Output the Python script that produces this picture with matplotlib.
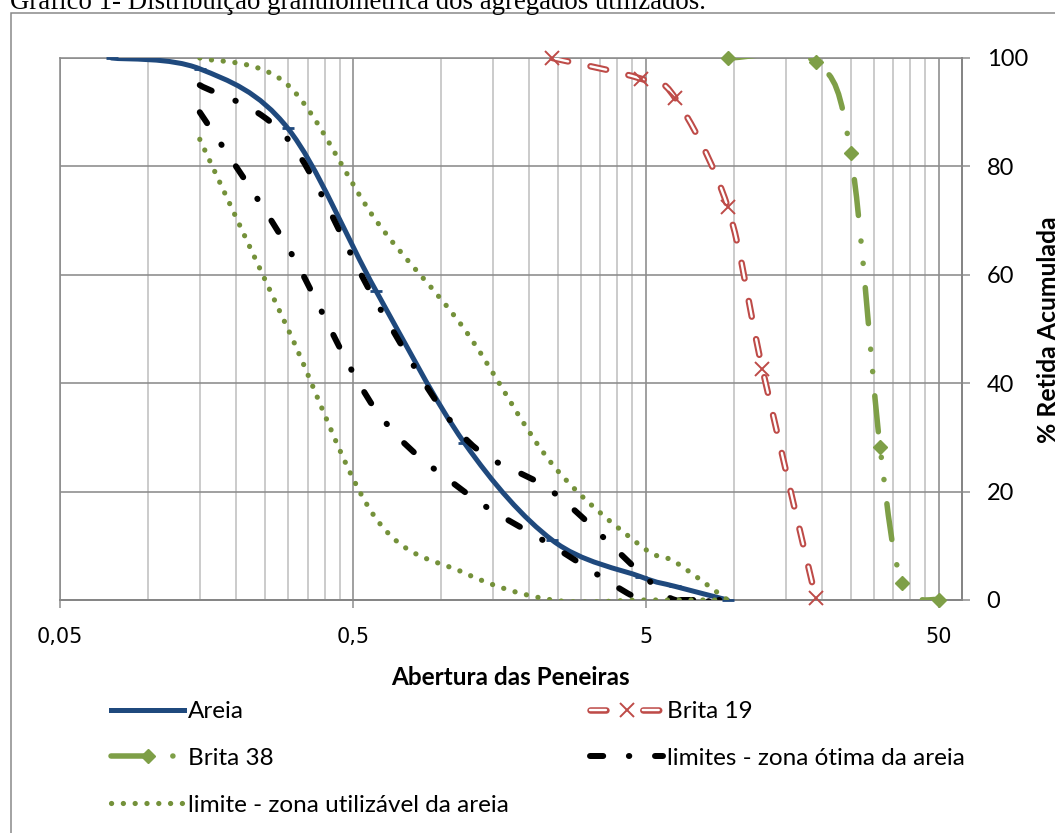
import numpy as np
import matplotlib
matplotlib.use("Agg")
import matplotlib.pyplot as plt
from matplotlib.path import Path
from matplotlib.patches import PathPatch, Rectangle
from matplotlib.lines import Line2D
from matplotlib.legend_handler import HandlerTuple

plt.rcParams["font.family"] = ["Lato", "DejaVu Sans"]
plt.rcParams["lines.scale_dashes"] = False

# peneiras (mm) e % retida acumulada
peneiras_areia = [0.075, 0.15, 0.3, 0.6, 1.2, 2.4, 4.8, 6.3, 9.5]
areia = [100, 98, 87, 57, 29, 11, 4.3, 2.5, 0]

peneiras_b19 = [2.4, 4.8, 6.3, 9.5, 12.5, 19]
brita19 = [100, 96.2, 92.6, 72.6, 42.6, 0.4]

peneiras_b38 = [9.5, 19, 25, 31.5, 37.5, 50]
brita38 = [100, 99.3, 82.5, 28.3, 3.2, 0]

# limites NBR 7211
peneiras_lim = [0.15, 0.3, 0.6, 1.2, 2.4, 4.8, 6.3, 9.5]
otima_inf = [90, 65, 35, 20, 10, 0, 0, 0]
otima_sup = [95, 85, 55, 30, 20, 5, 0, 0]
util_inf = [85, 50, 15, 5, 0, 0, 0, 0]
util_sup = [100, 95, 70, 50, 25, 10, 7, 0]

x_major = [0.05, 0.5, 5, 50]
x_labels = ["0,05", "0,5", "5", "50"]
y_ticks = [0, 20, 40, 60, 80, 100]

AZUL = "#1F497D"
VERMELHO = "#BE4B48"
VERDE = "#7E9F47"
VERDE_PONT = "#74913A"
CINZA = "#8c8c8c"
CINZA_CLARO = "#c0c0c0"

PX = 0.72  # pontos por pixel (dpi 100)
W, H = 1055, 833


def curva_suave(xs, ys):
    # linha suavizada (bezier) calculada no espaco log-x
    lx = np.log10(xs)
    y = np.asarray(ys, float)
    n = len(lx)
    verts = [(xs[0], y[0])]
    codes = [Path.MOVETO]
    for i in range(n - 1):
        i0 = max(i - 1, 0)
        i3 = min(i + 2, n - 1)
        c1x = lx[i] + (lx[i + 1] - lx[i0]) / 6
        c1y = y[i] + (y[i + 1] - y[i0]) / 6
        c2x = lx[i + 1] - (lx[i3] - lx[i]) / 6
        c2y = y[i + 1] - (y[i3] - y[i]) / 6
        verts += [(10 ** c1x, c1y), (10 ** c2x, c2y), (xs[i + 1], y[i + 1])]
        codes += [Path.CURVE4] * 3
    return Path(verts, codes)


fig = plt.figure(figsize=(W / 100, H / 100), dpi=100)
ax = fig.add_axes([60 / W, 1 - 600 / H, (962 - 60) / W, (600 - 58) / H])
ax.set_xscale("log")
ax.set_xlim(0.05, 60)
ax.set_ylim(0, 100)

clip = Rectangle((0, -0.008), 1, 1.012, transform=ax.transAxes)


def desenha(xs, ys, cor, lw, dashes=None, z=3):
    p = PathPatch(curva_suave(xs, ys), fill=False, edgecolor=cor, lw=lw,
                  capstyle="round", joinstyle="round", zorder=z)
    if dashes:
        p.set_linestyle((0, dashes))
    p.set_clip_path(clip)
    ax.add_patch(p)


# espessuras e tracejados (pt)
lw_areia = 5 * PX
lw_b19, lw_b19_in = 6.5 * PX, 2.4 * PX
lw_b38 = 5.5 * PX
lw_otima = 6 * PX
lw_util = 5.2 * PX
ds_b19 = (11.5, 16.5)
ds_b38 = (26, 18.5, 0.1, 16, 0.1, 17.5)
ds_otima = (9.5, 18.5, 0.3, 18.5)
ds_util = (0.1, 8.4)

desenha(peneiras_areia, areia, AZUL, lw_areia, z=3)
ax.plot(peneiras_areia, areia, ls="none", marker="_", ms=9, mew=2, color=AZUL,
        zorder=3.1, clip_on=False)

desenha(peneiras_b19, brita19, VERMELHO, lw_b19, ds_b19, z=4)
desenha(peneiras_b19, brita19, "white", lw_b19_in, ds_b19, z=4.1)
ax.plot(peneiras_b19, brita19, ls="none", marker="x", ms=9.5, mew=1.4,
        color=VERMELHO, zorder=4.2, clip_on=False)

desenha(peneiras_b38, brita38, VERDE, lw_b38, ds_b38, z=5)
ax.plot(peneiras_b38, brita38, ls="none", marker="D", ms=7.5, color=VERDE,
        zorder=5.1, clip_on=False)

desenha(peneiras_lim, otima_sup, "black", lw_otima, ds_otima, z=6)
desenha(peneiras_lim, otima_inf, "black", lw_otima, ds_otima, z=6)

desenha(peneiras_lim, util_sup, VERDE_PONT, lw_util, ds_util, z=7)
desenha(peneiras_lim, util_inf, VERDE_PONT, lw_util, ds_util, z=7)

# eixos e grade
minor = ([0.05 * k for k in range(2, 10)] + [0.5 * k for k in range(2, 10)]
         + [5 * k for k in range(2, 10)])
ax.set_xticks(x_major, labels=x_labels, fontsize=15, fontfamily="DejaVu Sans")
ax.set_xticks(minor, minor=True)
ax.xaxis.set_minor_formatter(matplotlib.ticker.NullFormatter())
ax.tick_params(axis="x", which="major", direction="out", length=8 * PX,
               width=1.5 * PX, color=CINZA, pad=14)
ax.tick_params(axis="x", which="minor", length=0)

ax.yaxis.tick_right()
ax.set_yticks(y_ticks, labels=[str(v) for v in y_ticks], fontsize=17)
ax.tick_params(axis="y", direction="out", length=8 * PX, width=1.5 * PX,
               color=CINZA, pad=12)

ax.grid(which="major", axis="both", color=CINZA, lw=1.6 * PX)
ax.grid(which="minor", axis="x", color=CINZA_CLARO, lw=1.6 * PX)
ax.set_axisbelow(True)
for lado in ["left", "top"]:
    ax.spines[lado].set_color(CINZA)
    ax.spines[lado].set_linewidth(1.6 * PX)
for lado in ["bottom", "right"]:
    ax.spines[lado].set_color("#868686")
    ax.spines[lado].set_linewidth(2 * PX)

fig.text(510 / W, 1 - 685 / H, "Abertura das Peneiras", fontsize=17.5,
         fontweight="bold", ha="center", va="baseline")
fig.text(1037 / W, 1 - 330 / H, "% Retida Acumulada", fontsize=17.8,
         fontweight="bold", rotation=90, ha="left", va="center")

# legenda
h_areia = Line2D([], [], color=AZUL, lw=lw_areia)
ds_leg19 = (11.5, 26.5)
h_b19 = (Line2D([], [], color=VERMELHO, lw=lw_b19, dashes=ds_leg19,
                dash_capstyle="round"),
         Line2D([], [], color="white", lw=lw_b19_in, dashes=ds_leg19,
                dash_capstyle="round"),
         Line2D([], [], ls="none", marker="x", ms=9.5, mew=1.4, color=VERMELHO))
h_b38 = Line2D([], [], color=VERDE, lw=lw_b38, dashes=ds_b38,
               dash_capstyle="round", marker="D", ms=7.5)
h_otima = Line2D([], [], color="black", lw=lw_otima, dashes=ds_otima,
                 dash_capstyle="round")
h_util = Line2D([], [], color=VERDE_PONT, lw=lw_util, dashes=ds_util,
                dash_capstyle="round")

fs = 17.5
fpx = fs / PX
opts = dict(loc="upper left", frameon=False, borderpad=0, borderaxespad=0,
            handlelength=73 / fpx, handletextpad=4 / fpx, labelspacing=1.06,
            fontsize=fs, handler_map={tuple: HandlerTuple(ndivide=1, pad=0)})
fig.legend([h_areia, h_b38, h_util],
           ["Areia", "Brita 38", "limite - zona utilizável da areia"],
           bbox_to_anchor=(111 / W, 1 - 701 / H), **opts)
fig.legend([h_b19, h_otima],
           ["Brita 19", "limites - zona ótima da areia"],
           bbox_to_anchor=(590 / W, 1 - 701 / H), **opts)

# moldura do grafico e titulo
fig.patches.append(Rectangle((11 / W, -0.1), 1.2, 1.1 - 13 / H, fill=False,
                             edgecolor="#868686", lw=1.5 * PX,
                             transform=fig.transFigure, figure=fig))
fig.text(10 / W, 1 - 9 / H,
         "Gráfico 1- Distribuição granulométrica dos agregados utilizados.",
         fontfamily="Liberation Serif", fontsize=19.3, ha="left", va="baseline")

fig.savefig("out.png", dpi=100)
